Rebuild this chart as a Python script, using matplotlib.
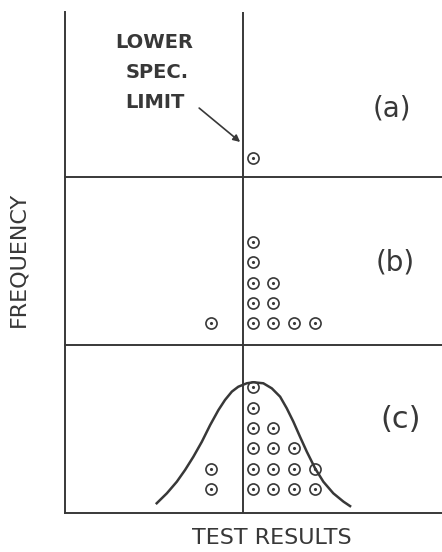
import matplotlib
matplotlib.use("Agg")
import matplotlib.pyplot as plt

# test-result columns (in units of one dot width, 0 = first column right of the limit)
spec_limit = -0.45

# (a) a single result just above the limit
a_cols = [0]
a_counts = [1]

# (b) a handful of results, one below the limit
b_cols = [-2, 0, 1, 2, 3]
b_counts = [1, 5, 3, 1, 1]

# (c) many results, normal curve drawn over them
c_cols = [-2, 0, 1, 2, 3]
c_counts = [2, 6, 4, 3, 2]

# bell curve
curve_x = [-4.63, -4.14, -3.66, -3.26, -2.86, -2.45, -2.05, -1.65, -1.33,
           -1.00, -0.69, -0.28, 0.04, 0.52, 0.93, 1.33, 1.65, 1.97, 2.29,
           2.62, 3.02, 3.42, 3.90, 4.39, 4.71]
curve_y = [0.29, 0.78, 1.35, 1.93, 2.58, 3.32, 4.14, 4.88, 5.38,
           5.79, 6.03, 6.20, 6.25, 6.20, 5.95, 5.54, 4.97, 4.31, 3.57,
           2.83, 2.01, 1.35, 0.78, 0.37, 0.15]

ink = "#383838"
W, H = 442, 552

fig = plt.figure(figsize=(W / 100, H / 100), dpi=100)

def px_box(top, bottom):
    return [65 / W, 1 - bottom / H, 1 - 65 / W, (bottom - top) / H]

def dots(ax, cols, counts):
    xs, ys = [], []
    for c, n in zip(cols, counts):
        for k in range(1, n + 1):
            xs.append(c)
            ys.append(k)
    ax.plot(xs, ys, "o", ms=8, mfc="none", mec=ink, mew=1.2)
    ax.plot(xs, ys, ".", ms=2.5, color=ink)

panels = [
    (12, 177, 0.064, a_cols, a_counts),
    (177, 345, -0.07, b_cols, b_counts),
    (345, 513, -0.19, c_cols, c_counts),
]
axes = []
for top, bottom, y0, cols, counts in panels:
    ax = fig.add_axes(px_box(top, bottom))
    ax.set_xlim(-9.06, 9.15)
    ax.set_ylim(y0, y0 + (bottom - top) / 20.3)
    for s in ["top", "right"]:
        ax.spines[s].set_visible(False)
    for s in ["left", "bottom"]:
        ax.spines[s].set_color(ink)
        ax.spines[s].set_linewidth(1.4)
    ax.set_xticks([])
    ax.set_yticks([])
    ax.patch.set_alpha(0)
    ax.axvline(spec_limit, color=ink, lw=1.4)
    dots(ax, cols, counts)
    axes.append(ax)

axes[2].plot(curve_x, curve_y, color=ink, lw=1.8, solid_joinstyle="round")

# arrow to the spec limit
axes[0].annotate("", xy=(-0.60, 1.79), xytext=(-2.58, 3.46),
                 arrowprops=dict(arrowstyle="-|>", color=ink, lw=1.2,
                                 mutation_scale=10, shrinkA=0, shrinkB=0))

def ftext(x, y, s, **kw):
    fig.text(x / W, 1 - y / H, s, color=ink, ha="center", va="center", **kw)

ftext(154, 42, "LOWER", fontsize=14, fontweight="bold")
ftext(157, 72, "SPEC.", fontsize=14, fontweight="bold")
ftext(155, 103, "LIMIT", fontsize=14, fontweight="bold")

ftext(392, 108, "(a)", fontsize=20)
ftext(395, 263, "(b)", fontsize=20)
ftext(401, 419, "(c)", fontsize=22)

ftext(18, 259, "FREQUENCY", fontsize=16, rotation=90)
ftext(272, 538, "TEST RESULTS", fontsize=16)

fig.savefig("out.png", dpi=100)
